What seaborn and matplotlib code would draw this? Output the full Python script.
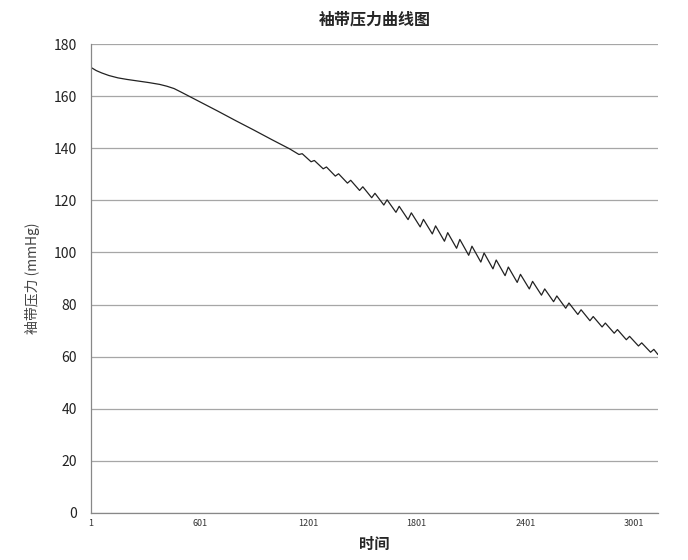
import pandas as pd
import matplotlib
matplotlib.use("Agg")
import matplotlib.pyplot as plt
import seaborn as sns

# cuff pressure curve (sample index vs mmHg)
smooth_s = [1, 30, 60, 100, 150, 200, 260, 320, 380, 420, 460, 500, 550, 600,
            700, 800, 900, 1000, 1100]
smooth_p = [171.0, 169.8, 168.9, 167.9, 167.0, 166.4, 165.8, 165.2, 164.5, 163.8,
            162.9, 161.5, 159.7, 157.9, 154.3, 150.6, 147.0, 143.3, 139.7]

# oscillation part: trough / peak vertices
wave_s = [1150, 1168, 1217, 1235, 1284, 1302, 1351, 1369, 1418, 1436, 1485, 1503,
          1552, 1570, 1619, 1637, 1686, 1704, 1753, 1771, 1820, 1838, 1887, 1905,
          1954, 1972, 2021, 2039, 2088, 2106, 2155, 2173, 2222, 2240, 2289, 2307,
          2356, 2374, 2423, 2441, 2490, 2508, 2557, 2575, 2624, 2642, 2691, 2709,
          2758, 2776, 2825, 2843, 2892, 2910, 2959, 2977, 3026, 3044, 3093, 3111,
          3134]
wave_p = [137.6, 137.9, 134.8, 135.3, 132.1, 132.8, 129.3, 130.2, 126.6, 127.7,
          123.8, 125.2, 121.0, 122.7, 118.2, 120.2, 115.4, 117.7, 112.6, 115.2,
          109.8, 112.7, 107.1, 110.2, 104.3, 107.6, 101.6, 105.0, 98.9, 102.4,
          96.3, 99.8, 93.7, 97.1, 91.1, 94.4, 88.5, 91.6, 86.0, 88.9,
          83.6, 86.0, 81.1, 83.3, 78.6, 80.6, 76.2, 78.0, 73.8, 75.4,
          71.4, 72.9, 69.0, 70.4, 66.5, 67.8, 64.1, 65.3, 61.7, 62.8,
          60.8]

x_labels = [1, 601, 1201, 1801, 2401, 3001]
x_marks = [1001, 2001, 3001]
y_ticks = [0, 20, 40, 60, 80, 100, 120, 140, 160, 180]

df = pd.DataFrame({"t": smooth_s + wave_s, "p": smooth_p + wave_p})

sns.set_style("white")
plt.rcParams['font.family'] = ['Noto Sans CJK SC', 'DejaVu Sans']

fig = plt.figure(figsize=(6.88, 5.6), dpi=100)
ax = fig.add_axes([91/688, 1-513/560, 567/688, 469/560])

sns.lineplot(data=df, x="t", y="p", ax=ax, color="#222222", linewidth=0.9)

ax.set_xlim(1, 3134)
ax.set_ylim(0, 180)
ax.set_yticks(y_ticks)
ax.yaxis.grid(True, color="#a6a6a6", linewidth=0.9)
ax.set_axisbelow(True)

ax.set_xticks(x_labels)
ax.set_xticklabels([str(v) for v in x_labels], fontsize=6.5, color="#333333")
ax.set_xticks(x_marks, minor=True)
ax.tick_params(axis="x", which="major", length=0, pad=4)
ax.tick_params(axis="x", which="minor", length=3, color="#888888", direction="inout")
ax.tick_params(axis="y", length=4, color="#888888", labelsize=10, labelcolor="#222222", pad=6)

for side in ["top", "right"]:
    ax.spines[side].set_visible(False)
for side in ["left", "bottom"]:
    ax.spines[side].set_color("#888888")
    ax.spines[side].set_linewidth(0.9)

ax.set_title("袖带压力曲线图", fontsize=11.5, fontweight="bold", pad=14)
ax.set_xlabel("时间", fontsize=11, fontweight="bold", labelpad=6)
ax.set_ylabel("袖带压力 (mmHg)", fontsize=10, color="#444444", labelpad=10)

fig.savefig("out.png", dpi=100)
